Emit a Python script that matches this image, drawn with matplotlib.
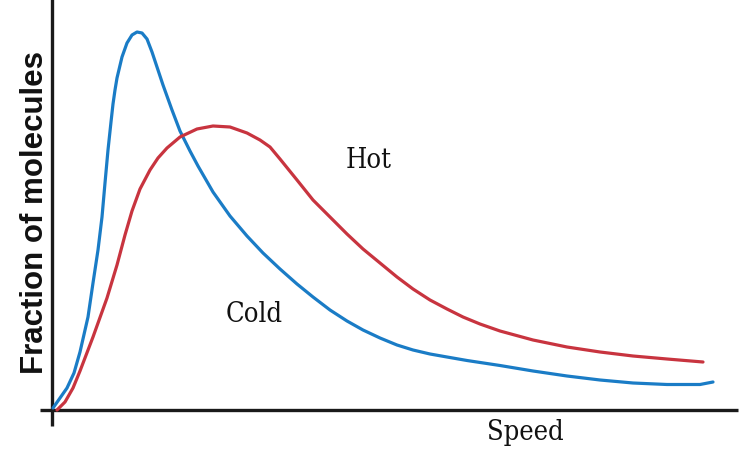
import matplotlib
matplotlib.use("Agg")
import matplotlib.pyplot as plt

# Data (speed, fraction) (arbitrary units)
cold_speed = [1, 8, 15, 22, 28, 36, 41, 46, 50, 53, 56, 59, 61, 63, 65, 70, 75, 80, 85, 90, 95, 100,
              105, 111, 120, 128, 138, 146, 161, 178, 195, 211, 228, 245, 261, 278, 295, 311,
              328, 345, 361, 378, 395, 415, 448, 481, 515, 548, 581, 615, 648, 661]
cold_frac = [2, 12, 22, 37, 58, 93, 127, 160, 193, 227, 260, 288, 306, 320, 332, 353, 367, 375, 378,
             377, 371, 358, 343, 325, 300, 279, 259, 244, 218, 194, 174, 157, 141, 126, 113, 100,
             89, 80, 72, 65, 60, 56, 53, 49.5, 44.5, 39, 34, 30, 27, 25.5, 25.5, 28]
hot_speed = [5, 13, 21, 28, 41, 55, 65, 73, 80, 88, 98, 106, 115, 128, 145, 161, 178, 195, 208,
             218, 228, 245, 261, 278, 295, 311, 328, 345, 361, 378, 395, 411, 428, 448, 481, 515,
             548, 581, 615, 651]
hot_frac = [0, 8, 22, 39, 73, 112, 145, 175, 199, 221, 240, 252, 262, 273, 281, 284, 283, 277, 270,
            263, 251, 230, 210, 193, 176, 161, 147, 133, 121, 110, 101, 93, 86, 79, 70, 63,
            58, 54, 51, 48]

labels = {"Hot": (317, 249), "Cold": (202, 96)}
xlabel = "Speed"
ylabel = "Fraction of molecules"

fig = plt.figure(figsize=(7.45, 4.57), dpi=100)
ax = fig.add_axes([0, 0, 1, 1])
ax.set_xlim(-52, 693)
ax.set_ylim(-47, 410)
ax.axis("off")

blue = "#1a7cc6"
red = "#c8343f"
ax.plot(cold_speed, cold_frac, color=blue, lw=2.3, solid_capstyle="round", solid_joinstyle="round", zorder=3)
ax.plot(hot_speed, hot_frac, color=red, lw=2.3, solid_capstyle="round", solid_joinstyle="round", zorder=3)

# axes lines
ax.plot([-12, 686], [0, 0], color="#1a1a1a", lw=2.4, solid_capstyle="butt", zorder=2)
ax.plot([0, 0], [-16, 412], color="#1a1a1a", lw=2.4, solid_capstyle="butt", zorder=2)

serif = dict(family=["DejaVu Serif"], fontstretch="condensed", fontsize=19.5, color="#111111",
             ha="center", va="center")
for t, (x, y) in labels.items():
    ax.text(x, y, t, **serif)
ax.text(473, -22, xlabel, **serif)

fig.text(35 / 745, 1 - 213 / 457, ylabel, rotation=90, ha="center", va="center",
         fontsize=22.5, fontweight="bold", family=["Liberation Sans", "DejaVu Sans"], color="#111111")

fig.savefig("out.png", dpi=100)
